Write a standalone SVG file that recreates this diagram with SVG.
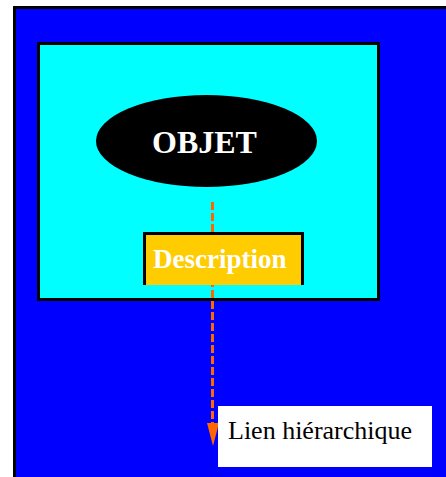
<svg xmlns="http://www.w3.org/2000/svg" width="446" height="477" viewBox="0 0 446 477">
<style>
.bold{font-family:"Liberation Serif","Times New Roman",serif;font-weight:bold;fill:#FFFFFF}
.reg{font-family:"Liberation Serif","Times New Roman",serif;fill:#000000}
.dash{stroke:#FF6600;stroke-width:3;stroke-dasharray:8 3}
</style>
<rect x="0" y="0" width="446" height="477" fill="#FFFFFF"/>
<g id="background">
<rect x="14.5" y="7.5" width="440" height="480" fill="#0000FF" stroke="#000000" stroke-width="3"/>
</g>
<g id="container">
<rect x="38.5" y="43.5" width="340" height="256" fill="#00FFFF" stroke="#000000" stroke-width="3"/>
</g>
<g id="connectors">
<line class="dash" x1="212.5" y1="202" x2="212.5" y2="424"/>
<polygon points="207,423 219,423 213,446" fill="#FF6600"/>
</g>
<g id="objet">
<ellipse cx="206.5" cy="141" rx="110.5" ry="46" fill="#000000"/>
<text class="bold" x="152" y="153" font-size="32">OBJET</text>
</g>
<g id="description">
<rect x="143" y="232" width="161" height="53" fill="#FFCC00"/>
<path d="M144.5,285 V233.5 H302.5 V285" fill="none" stroke="#000000" stroke-width="3"/>
<text class="bold" x="153" y="268" font-size="27">Description</text>
</g>
<g id="label">
<rect x="218" y="406" width="214" height="61" fill="#FFFFFF"/>
<text class="reg" x="228" y="439" font-size="26">Lien hiérarchique</text>
</g>
</svg>
